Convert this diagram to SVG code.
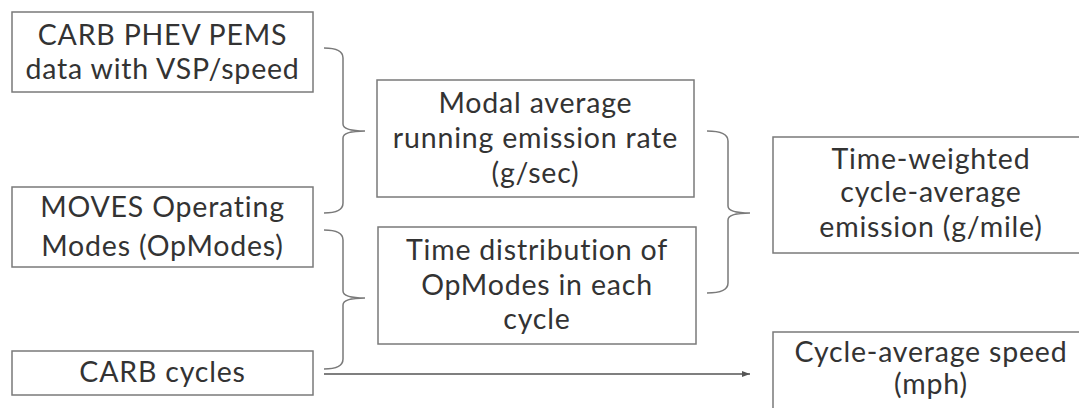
<svg xmlns="http://www.w3.org/2000/svg" width="1079" height="408" viewBox="0 0 1079 408">
<style>
.box{fill:#fff;stroke:#7a7a7a;stroke-width:1.5}
.t{font-family:Lato,"Noto Sans",sans-serif;font-size:28.5px;letter-spacing:0.8px;fill:#333;text-anchor:middle}
.br{fill:none;stroke:#7a7a7a;stroke-width:1.5}
</style>
<defs>
<marker id="ah" markerWidth="8" markerHeight="6" refX="8" refY="3" orient="auto" markerUnits="userSpaceOnUse">
<path d="M0,0 L8,3 L0,6 Z" fill="#555"/>
</marker>
</defs>
<rect width="1079" height="408" fill="#fff"/>
<g id="connectors">
<path class="br" d="M324,48 Q343,48 343,58 L343,124 Q343,131 365,131 Q343,131 343,138 L343,203 Q343,213 324,213"/>
<path class="br" d="M324,230 Q343,230 343,240 L343,291 Q343,298 365,298 Q343,298 343,305 L343,359 Q343,369 324,369"/>
<path class="br" d="M707,131 Q728,131 728,141 L728,206 Q728,213 750,213 Q728,213 728,220 L728,283 Q728,293 707,293"/>
<line x1="324" y1="374" x2="750" y2="374" stroke="#555" stroke-width="1.5" marker-end="url(#ah)"/>
</g>
<g id="pems">
<rect class="box" x="12" y="12" width="301" height="80"/>
<text class="t" x="162.5" y="45">CARB PHEV PEMS</text>
<text class="t" x="162.5" y="79">data with VSP/speed</text>
</g>
<g id="moves">
<rect class="box" x="12" y="187" width="301" height="80"/>
<text class="t" x="162.5" y="217">MOVES Operating</text>
<text class="t" x="162.5" y="256">Modes (OpModes)</text>
</g>
<g id="cycles">
<rect class="box" x="12" y="351" width="301" height="44"/>
<text class="t" x="162.5" y="382">CARB cycles</text>
</g>
<g id="modal">
<rect class="box" x="377" y="80" width="317" height="117"/>
<text class="t" x="535.5" y="113">Modal average</text>
<text class="t" x="535.5" y="148">running emission rate</text>
<text class="t" x="535.5" y="183">(g/sec)</text>
</g>
<g id="timedist">
<rect class="box" x="378" y="227" width="318" height="117"/>
<text class="t" x="537" y="260">Time distribution of</text>
<text class="t" x="537" y="295">OpModes in each</text>
<text class="t" x="537" y="329">cycle</text>
</g>
<g id="weighted">
<rect class="box" x="773" y="137" width="320" height="116"/>
<text class="t" x="931" y="169">Time-weighted</text>
<text class="t" x="931" y="202">cycle-average</text>
<text class="t" x="931" y="237">emission (g/mile)</text>
</g>
<g id="speed">
<rect class="box" x="773" y="332" width="320" height="100"/>
<text class="t" x="931" y="362">Cycle-average speed</text>
<text class="t" x="931" y="394">(mph)</text>
</g>
</svg>
